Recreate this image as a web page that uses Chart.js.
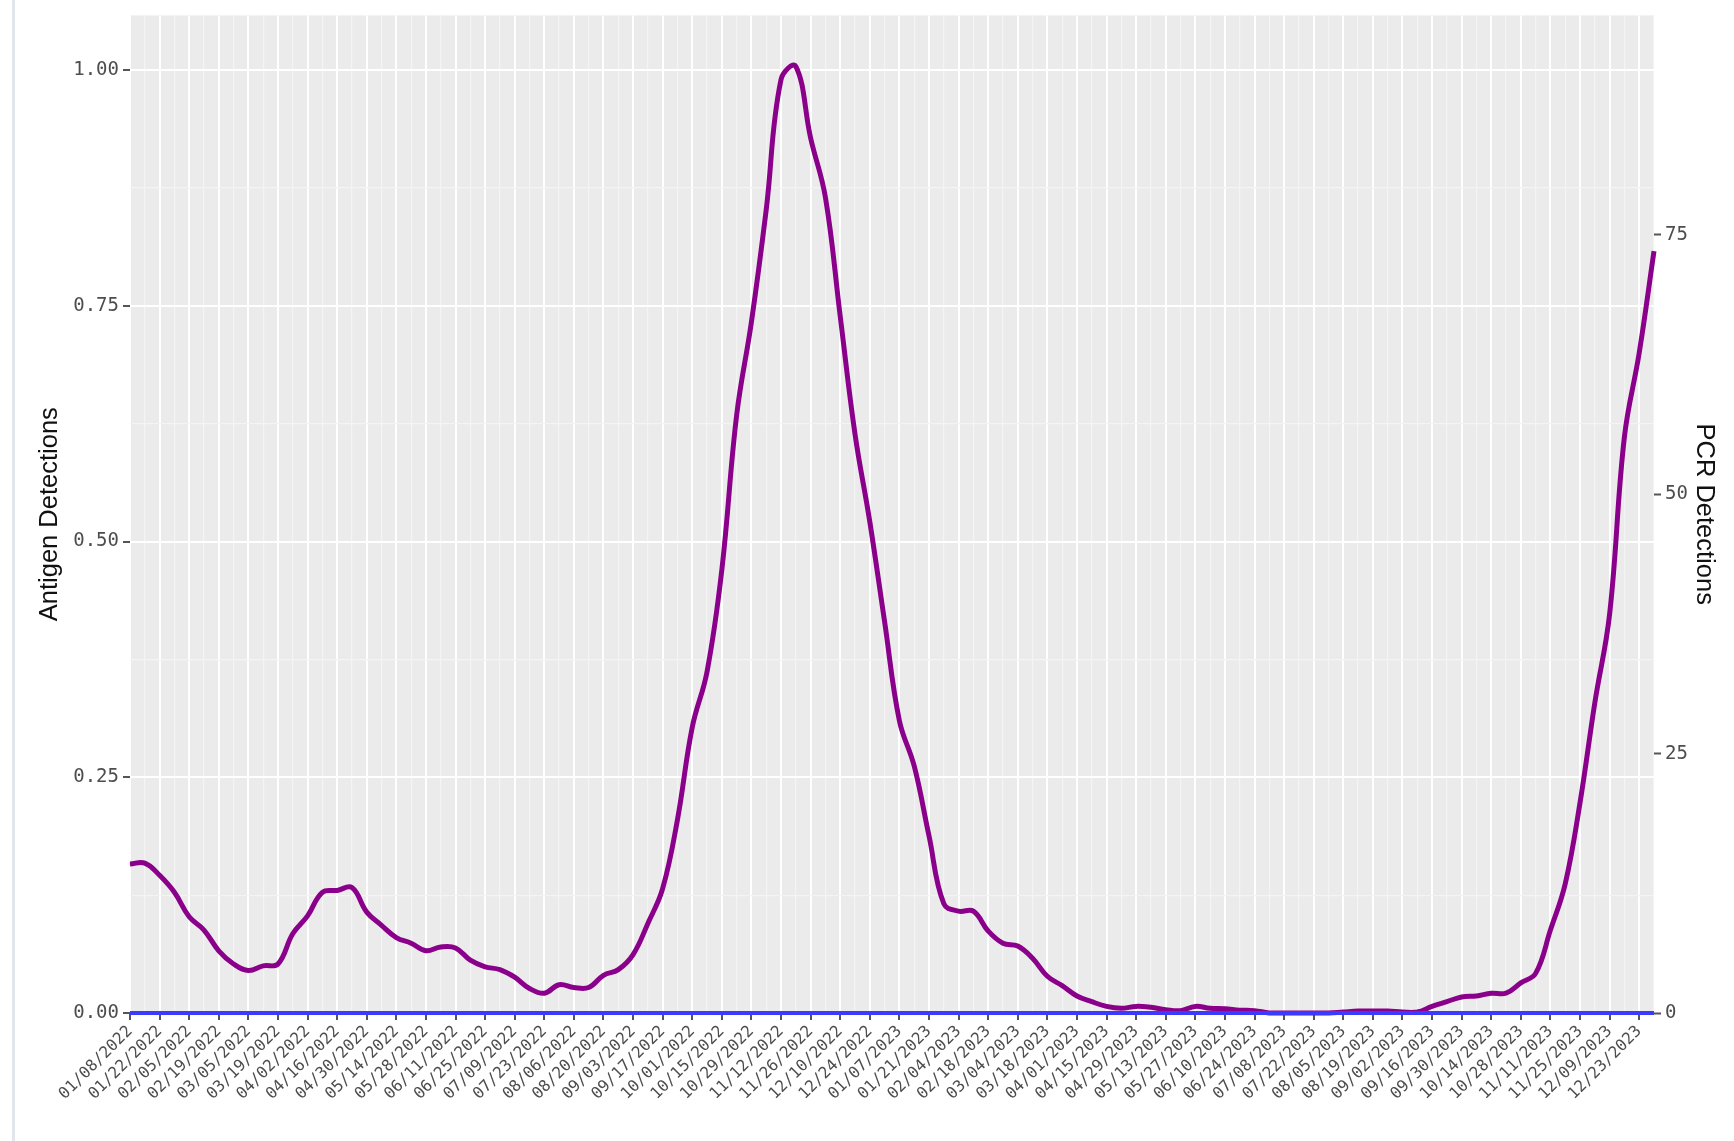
<!DOCTYPE html>
<html><head><meta charset="utf-8">
<script src="https://cdn.jsdelivr.net/npm/chart.js@4.4.0/dist/chart.umd.min.js"></script>
<style>html,body{margin:0;padding:0;background:#fff;} canvas{display:block;}</style>
</head><body>
<canvas id="c" width="1734" height="1141"></canvas>
<script>
const weeks = [
"01/08/2022","01/15/2022","01/22/2022","01/29/2022","02/05/2022","02/12/2022","02/19/2022","02/26/2022",
"03/05/2022","03/12/2022","03/19/2022","03/26/2022","04/02/2022","04/09/2022","04/16/2022","04/23/2022",
"04/30/2022","05/07/2022","05/14/2022","05/21/2022","05/28/2022","06/04/2022","06/11/2022","06/18/2022",
"06/25/2022","07/02/2022","07/09/2022","07/16/2022","07/23/2022","07/30/2022","08/06/2022","08/13/2022",
"08/20/2022","08/27/2022","09/03/2022","09/10/2022","09/17/2022","09/24/2022","10/01/2022","10/08/2022",
"10/15/2022","10/22/2022","10/29/2022","11/05/2022","11/12/2022","11/19/2022","11/26/2022","12/03/2022",
"12/10/2022","12/17/2022","12/24/2022","12/31/2022",
"01/07/2023","01/14/2023","01/21/2023","01/28/2023","02/04/2023","02/11/2023","02/18/2023","02/25/2023",
"03/04/2023","03/11/2023","03/18/2023","03/25/2023","04/01/2023","04/08/2023","04/15/2023","04/22/2023",
"04/29/2023","05/06/2023","05/13/2023","05/20/2023","05/27/2023","06/03/2023","06/10/2023","06/17/2023",
"06/24/2023","07/01/2023","07/08/2023","07/15/2023","07/22/2023","07/29/2023","08/05/2023","08/12/2023",
"08/19/2023","08/26/2023","09/02/2023","09/09/2023","09/16/2023","09/23/2023","09/30/2023","10/07/2023",
"10/14/2023","10/21/2023","10/28/2023","11/04/2023","11/11/2023","11/18/2023","11/25/2023","12/02/2023",
"12/09/2023","12/16/2023","12/23/2023","12/30/2023"
];

// purple line (read against the left axis)
const purpleDetections = [
0.158,0.159,0.146,0.128,0.102,0.088,0.066,0.052,
0.045,0.050,0.052,0.084,0.103,0.128,0.130,0.133,
0.107,0.093,0.080,0.074,0.066,0.070,0.069,0.056,
0.049,0.046,0.038,0.026,0.021,0.030,0.027,0.027,
0.040,0.046,0.062,0.095,0.132,0.205,0.303,0.362,
0.470,0.634,0.733,0.852,0.990,1.004,0.928,0.865,
0.739,0.614,0.521,0.415,
0.310,0.262,0.188,0.116,0.108,0.108,0.087,0.074,
0.071,0.058,0.039,0.029,0.018,0.012,0.007,0.005,
0.007,0.006,0.0035,0.0025,0.007,0.005,0.0045,0.003,
0.0025,0,0,0,0,0,0.001,0.002,
0.002,0.002,0.001,0.001,0.007,0.012,0.017,0.018,
0.021,0.021,0.032,0.042,0.088,0.137,0.223,0.329,
0.423,0.611,0.700,0.808
];

// blue line (read against the right axis)
const blueDetections = [
0,0,0,0,0,0,0,0,0,0,0,0,0,0,0,0,0,0,0,0,0,0,0,0,0,0,
0,0,0,0,0,0,0,0,0,0,0,0,0,0,0,0,0,0,0,0,0,0,0,0,0,0,
0,0,0,0,0,0,0,0,0,0,0,0,0,0,0,0,0,0,0,0,0,0,0,0,0,0,
0,0,0,0,0,0,0,0,0,0,0,0,0,0,0,0,0,0,0,0,0,0,0,0,0,0
];

const leftTicks = [0, 0.25, 0.5, 0.75, 1.0];
const rightTicks = [0, 25, 50, 75];
const leftMax = 1.058;
const rightMax = 96.15;

const panelBg = {
  id: 'panelBg',
  beforeDraw(chart) {
    const {ctx, chartArea: a} = chart;
    ctx.save();
    ctx.fillStyle = '#FFFFFF';
    ctx.fillRect(0, 0, chart.width, chart.height);
    ctx.fillStyle = '#E2E5EA';
    ctx.fillRect(12, 0, 3, chart.height);
    ctx.fillStyle = '#EBEBEB';
    ctx.fillRect(a.left, a.top, a.right - a.left, a.bottom - a.top);
    ctx.restore();
  }
};

const tickFontY = {family: 'DejaVu Sans Mono', size: 19};
const tickFontX = {family: 'DejaVu Sans Mono', size: 16};
const titleFont = {family: 'Liberation Sans', size: 25.5};

new Chart(document.getElementById('c'), {
  type: 'line',
  data: {
    labels: weeks,
    datasets: [
      {
        data: blueDetections, yAxisID: 'yR',
        borderColor: '#3B3BFF', borderWidth: 4,
        pointRadius: 0, tension: 0, clip: false
      },
      {
        data: purpleDetections, yAxisID: 'yL',
        borderColor: '#8B008B', borderWidth: 5,
        pointRadius: 0, tension: 0.4, clip: 6
      }
    ]
  },
  options: {
    responsive: false,
    devicePixelRatio: 1,
    animation: false,
    events: [],
    layout: {padding: {top: 13, left: 0, right: 0, bottom: 0}},
    plugins: {legend: {display: false}, tooltip: {enabled: false}},
    scales: {
      x: {
        type: 'category',
        offset: false,
        border: {display: false},
        grid: {
          color: c => (c.index % 2 === 0 ? '#FFFFFF' : '#F4F4F4'),
          lineWidth: c => (c.index % 2 === 0 ? 2 : 1.2),
          tickColor: c => (c.index % 2 === 0 ? '#555555' : 'rgba(0,0,0,0)'),
          tickWidth: 2,
          tickLength: 7
        },
        ticks: {
          autoSkip: false,
          minRotation: 45, maxRotation: 45,
          padding: 2,
          color: '#4D4D4D',
          font: tickFontX,
          callback: function(v, i) { return i % 2 === 0 ? this.getLabelForValue(v) : ''; }
        },
        afterFit: s => { s.height = 128; }
      },
      yL: {
        position: 'left',
        min: 0, max: leftMax,
        border: {display: false},
        grid: {
          color: c => (leftTicks.includes(c.tick.value) ? '#FFFFFF' : '#F4F4F4'),
          lineWidth: c => (leftTicks.includes(c.tick.value) ? 2 : 1.2),
          tickColor: c => (leftTicks.includes(c.tick.value) ? '#555555' : 'rgba(0,0,0,0)'),
          tickWidth: 2,
          tickLength: 7
        },
        ticks: {
          stepSize: 0.125,
          includeBounds: false,
          autoSkip: false,
          padding: 4,
          color: '#4D4D4D',
          font: tickFontY,
          callback: v => (leftTicks.includes(v) ? v.toFixed(2) : '')
        },
        title: {
          display: true, text: 'Antigen Detections', color: '#111111',
          font: titleFont, padding: {top: 35, bottom: 0}
        },
        afterFit: s => { s.width = 130; }
      },
      yR: {
        position: 'right',
        min: 0, max: rightMax,
        border: {display: false},
        grid: {
          drawOnChartArea: false,
          tickColor: '#555555', tickWidth: 2, tickLength: 7
        },
        ticks: {
          stepSize: 25,
          includeBounds: false,
          autoSkip: false,
          padding: 4,
          color: '#4D4D4D',
          font: tickFontY,
          callback: v => (rightTicks.includes(v) ? String(v) : '')
        },
        title: {
          display: true, text: 'PCR Detections', color: '#111111',
          font: titleFont, padding: {top: 15, bottom: 0}
        },
        afterFit: s => { s.width = 80; }
      }
    }
  },
  plugins: [panelBg]
});
</script>
</body></html>
